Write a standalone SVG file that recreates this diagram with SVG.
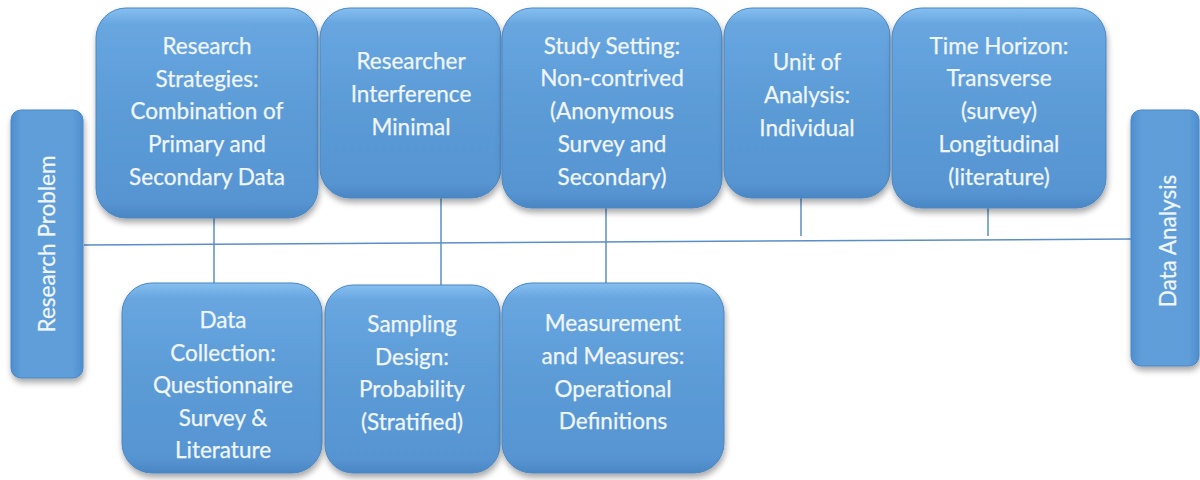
<svg xmlns="http://www.w3.org/2000/svg" width="1200" height="480" viewBox="0 0 1200 480">
  <defs>
    <linearGradient id="boxFill" x1="0" y1="0" x2="0" y2="1">
      <stop offset="0" stop-color="#86bff0"/>
      <stop offset="0.08" stop-color="#68a6e0"/>
      <stop offset="0.5" stop-color="#5b9bd6"/>
      <stop offset="0.92" stop-color="#5795d2"/>
      <stop offset="1" stop-color="#4a86c4"/>
    </linearGradient>
    <linearGradient id="sideFill" x1="0" y1="0" x2="1" y2="0">
      <stop offset="0" stop-color="#4f8ecf"/>
      <stop offset="0.15" stop-color="#5e9ed9"/>
      <stop offset="0.85" stop-color="#5e9ed9"/>
      <stop offset="1" stop-color="#4f8ecf"/>
    </linearGradient>
    <filter id="shadow" x="-10%" y="-10%" width="120%" height="125%">
      <feGaussianBlur in="SourceAlpha" stdDeviation="3"/>
      <feOffset dx="1" dy="4" result="b"/>
      <feComponentTransfer><feFuncA type="linear" slope="0.35"/></feComponentTransfer>
      <feMerge><feMergeNode/><feMergeNode in="SourceGraphic"/></feMerge>
    </filter>
  </defs>
  <style>
    .box { fill: url(#boxFill); stroke: #4a86c2; stroke-width: 1; filter: url(#shadow); }
    .side { fill: url(#sideFill); stroke: #4a86c2; stroke-width: 1; filter: url(#shadow); }
    .lbl { font-family: Lato, "Open Sans", "Liberation Sans", sans-serif; font-size: 22.5px; fill: #f0f6fc; text-anchor: middle; stroke: #f0f6fc; stroke-width: 0.25; }
    .conn { stroke: #5b8fc4; stroke-width: 1.5; fill: none; }
  </style>

  <rect width="1200" height="480" fill="#ffffff"/>

  <!-- connectors: spine and drop lines -->
  <g id="connectors">
    <line class="conn" x1="84" y1="245" x2="1131" y2="239"/>
    <line class="conn" x1="214" y1="218" x2="214" y2="286"/>
    <line class="conn" x1="441" y1="198" x2="441" y2="287"/>
    <line class="conn" x1="606" y1="208" x2="606" y2="285"/>
    <line class="conn" x1="801" y1="198" x2="801" y2="236"/>
    <line class="conn" x1="988" y1="208" x2="988" y2="236"/>
  </g>

  <g id="research-problem">
    <rect class="side" x="11" y="110" width="72" height="268" rx="10"/>
    <text class="lbl" transform="translate(55,244) rotate(-90)">Research  Problem</text>
  </g>

  <g id="data-analysis">
    <rect class="side" x="1131" y="110" width="68" height="256" rx="10"/>
    <text class="lbl" transform="translate(1176,241) rotate(-90)">Data Analysis</text>
  </g>

  <g id="research-strategies">
    <rect class="box" x="96" y="8" width="222" height="210" rx="30"/>
    <text class="lbl" x="207" y="54">Research</text>
    <text class="lbl" x="207" y="87">Strategies:</text>
    <text class="lbl" x="207" y="119">Combination of</text>
    <text class="lbl" x="207" y="152">Primary and</text>
    <text class="lbl" x="207" y="185">Secondary Data</text>
  </g>

  <g id="researcher-interference">
    <rect class="box" x="320" y="8" width="181" height="190" rx="30"/>
    <text class="lbl" x="411" y="69">Researcher</text>
    <text class="lbl" x="411" y="102">Interference</text>
    <text class="lbl" x="411" y="135">Minimal</text>
  </g>

  <g id="study-setting">
    <rect class="box" x="502" y="8" width="220" height="200" rx="30"/>
    <text class="lbl" x="612" y="54">Study Setting:</text>
    <text class="lbl" x="612" y="86">Non-contrived</text>
    <text class="lbl" x="612" y="119">(Anonymous</text>
    <text class="lbl" x="612" y="152">Survey and</text>
    <text class="lbl" x="612" y="185">Secondary)</text>
  </g>

  <g id="unit-of-analysis">
    <rect class="box" x="724" y="8" width="166" height="190" rx="28"/>
    <text class="lbl" x="807" y="70">Unit of</text>
    <text class="lbl" x="807" y="103">Analysis:</text>
    <text class="lbl" x="807" y="136">Individual</text>
  </g>

  <g id="time-horizon">
    <rect class="box" x="892" y="8" width="214" height="200" rx="30"/>
    <text class="lbl" x="999" y="54">Time Horizon:</text>
    <text class="lbl" x="999" y="86">Transverse</text>
    <text class="lbl" x="999" y="119">(survey)</text>
    <text class="lbl" x="999" y="152">Longitudinal</text>
    <text class="lbl" x="999" y="185">(literature)</text>
  </g>

  <g id="data-collection">
    <rect class="box" x="122" y="283" width="200" height="190" rx="30"/>
    <text class="lbl" x="223" y="328">Data</text>
    <text class="lbl" x="223" y="361">Collection:</text>
    <text class="lbl" x="223" y="393">Questionnaire</text>
    <text class="lbl" x="223" y="426">Survey &amp;</text>
    <text class="lbl" x="223" y="458">Literature</text>
  </g>

  <g id="sampling-design">
    <rect class="box" x="325" y="285" width="175" height="188" rx="28"/>
    <text class="lbl" x="412" y="332">Sampling</text>
    <text class="lbl" x="412" y="365">Design:</text>
    <text class="lbl" x="412" y="397">Probability</text>
    <text class="lbl" x="412" y="430">(Stratified)</text>
  </g>

  <g id="measurement">
    <rect class="box" x="502" y="283" width="222" height="190" rx="30"/>
    <text class="lbl" x="613" y="331">Measurement</text>
    <text class="lbl" x="613" y="364">and Measures:</text>
    <text class="lbl" x="613" y="397">Operational</text>
    <text class="lbl" x="613" y="429">Definitions</text>
  </g>
</svg>
